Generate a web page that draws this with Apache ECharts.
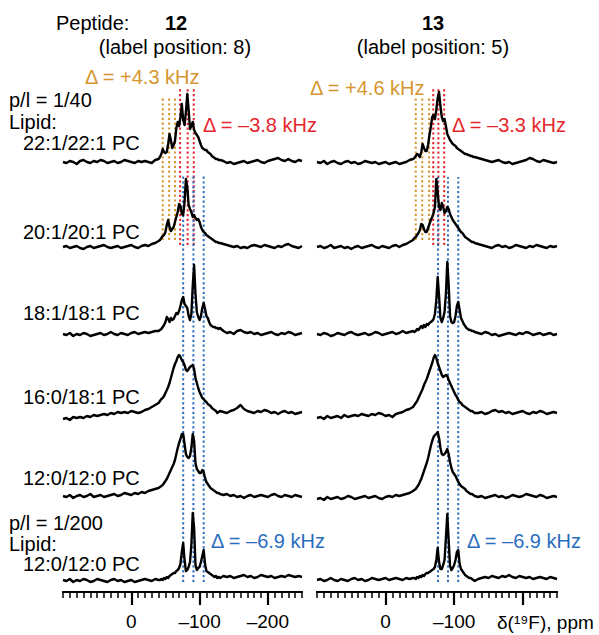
<!DOCTYPE html>
<html><head><meta charset="utf-8">
<script src="https://cdn.jsdelivr.net/npm/echarts@6/dist/echarts.min.js"></script>
<style>html,body{margin:0;padding:0;background:#fff}#c{width:599px;height:635px}</style>
</head><body><div id="c"></div>
<script>
// chemical shift grid (ppm)
const ppm = [100,95,90,85,80,75,70,65,60,55,50,45,40,35,30,25,20,15,10,5,0,-5,-10,-15,-20,-25,-30,-35,-40,
-42,-44,-46,-48,-50,-52,-54,-56,-58,-60,-62,-64,-66,-68,-70,-72,-74,-76,-78,-80,-82,-84,-86,-88,-90,-92,-94,-96,-98,-100,-102,-104,-106,-108,-110,-112,-114,-116,-118,-120,-122,-124,-126,-128,-130,
-135,-140,-145,-150,-155,-160,-165,-170,-175,-180,-185,-190,-195,-200,-205,-210,-215,-220,-225,-230,-235,-240,-245,-250];

const rowLabels = ['22:1/22:1 PC','20:1/20:1 PC','18:1/18:1 PC','16:0/18:1 PC','12:0/12:0 PC','12:0/12:0 PC'];
const rowOffset = [430,345,258,179,96,12];

// Peptide 12 spectra (intensity, arbitrary units)
const p12_r1 = [0,-1,1,0,-2,1,2,0,-1,1,0,2,1,-1,0,1,-1,0,2,1,0,-1,1,0,1,0,-1,2,3,
5,8,13,10,9,10,18,28,22,14,17,21,34,40,36,45,58,42,37,50,68,52,33,36,40,32,29,27,25,21,17,14,13,12,12,10,9,8,6,5,4,3,3,2,2,
1,-1,0,-2,-1,0,1,-1,0,1,2,0,-1,1,2,3,4,2,1,3,1,0,2,1];
const p12_r2 = [0,1,-1,0,1,-1,-2,0,1,-1,0,1,2,0,-1,0,1,-1,0,1,2,0,-1,1,2,1,3,4,6,
7,9,11,12,15,22,27,20,16,18,20,25,30,35,43,41,33,32,45,68,60,42,38,35,30,32,29,27,28,25,20,17,15,14,12,11,10,9,8,7,6,5,5,4,4,
3,2,1,0,1,-1,0,-1,1,2,1,0,2,1,0,-1,1,0,2,3,1,0,-1,1];
const p12_r3 = [0,-1,1,-2,0,-1,1,0,-2,-1,0,1,-1,0,2,0,-1,1,0,-1,1,2,0,1,2,1,2,3,3,
4,5,7,9,12,17,15,12,16,14,15,18,21,20,23,28,34,37,30,28,26,18,14,20,48,69,40,22,17,14,18,26,31,25,18,16,12,9,8,7,7,6,6,5,6,
3,1,2,0,3,4,2,1,2,0,1,-1,0,1,2,0,-1,1,0,2,1,-1,0,1];
const p12_r4 = [-6,-5,-7,-4,-5,-4,-5,-3,-4,-2,-3,-2,-1,-2,0,-1,1,0,1,0,2,1,0,1,3,4,6,8,10,
12,14,15,17,20,23,26,30,35,40,45,49,52,56,58,56,53,51,48,43,42,44,46,47,48,44,35,30,25,21,18,15,14,12,11,9,8,7,5,4,3,2,0,1,2,
1,0,2,3,5,8,4,2,1,0,2,1,3,2,0,1,-1,1,2,0,1,-1,0,1];
const p12_r5 = [0,-1,1,-2,0,1,-1,0,2,-1,0,1,-1,0,1,2,0,1,3,2,1,3,2,4,3,5,6,7,8,
9,10,11,13,15,17,20,23,26,29,32,36,42,48,53,57,62,62,52,42,39,38,40,48,62,55,33,27,25,23,23,26,24,18,14,12,10,8,7,6,5,4,3,3,2,
1,2,0,1,-1,0,-2,0,1,-1,0,1,0,-1,1,2,0,-1,1,0,-1,1,0,-1];
const p12_r6 = [0,-1,1,-2,0,-1,1,0,-2,-1,1,0,-1,-2,0,1,-1,0,-2,-1,0,-2,-1,0,1,0,-1,1,0,
0,1,0,2,1,3,2,4,5,6,7,7,9,10,12,16,28,37,20,9,10,13,18,35,67,52,15,10,12,13,18,24,30,16,9,8,7,6,5,4,3,4,2,3,2,
4,3,4,2,3,4,5,3,4,2,3,5,4,3,4,2,3,4,3,5,4,3,4,3];

// Peptide 13 spectra
const p13_r1 = [0,-1,1,-2,0,1,-1,-2,0,1,-1,0,-2,-1,1,0,-1,0,-2,-1,0,-2,-1,0,-2,-1,0,2,3,
4,6,8,7,5,10,18,14,11,11,17,27,35,45,47,43,52,64,70,56,45,41,43,36,28,25,22,20,18,17,16,14,13,12,11,10,9,8,8,7,7,6,6,5,5,
4,3,2,1,0,1,2,0,-1,0,-2,-1,0,1,2,4,3,1,0,2,1,0,-1,0];
const p13_r2 = [0,1,-1,0,2,-1,0,1,-1,0,-2,0,1,-1,0,1,2,0,-1,1,0,-1,1,2,0,2,3,5,7,
9,10,12,14,17,23,22,18,15,15,19,23,27,30,34,40,68,55,40,37,44,40,34,36,40,38,33,30,27,25,23,21,19,17,15,14,12,10,9,8,7,6,5,5,4,
3,2,1,0,-1,1,2,0,1,-1,0,2,1,0,-1,1,0,2,1,0,-1,1,0,1];
const p13_r3 = [0,-1,1,0,-2,-1,1,0,-1,1,2,0,-1,0,1,-1,0,2,1,-1,0,1,2,0,1,3,1,2,3,
2,3,5,4,6,8,6,9,7,10,9,11,12,13,15,20,34,57,38,16,12,16,22,40,72,50,18,12,11,12,18,28,32,24,16,13,10,8,6,5,4,4,3,3,2,
1,0,2,1,-1,0,-2,-1,0,1,0,-1,1,0,2,1,-1,0,1,-1,0,1,-1,0];
const p13_r4 = [-5,-4,-6,-3,-5,-4,-3,-5,-2,-4,-3,-2,-3,-1,-2,-3,-1,-2,0,-1,-3,-2,-4,-1,0,1,3,4,6,
8,10,12,15,18,21,24,28,31,34,38,42,46,50,55,58,55,50,46,42,38,36,37,38,37,33,30,27,24,21,18,16,13,11,10,8,7,6,5,4,3,2,2,1,0,
0,1,-1,0,2,3,1,2,0,1,-1,0,1,2,0,-1,1,0,2,1,-1,0,1,0];
const p13_r5 = [-3,-2,-4,-1,-3,-2,-1,-3,-2,0,-1,-3,-2,-1,0,-2,-1,0,-2,-3,-1,0,-1,1,0,1,2,3,5,
6,7,9,11,14,17,21,25,29,33,38,44,50,55,59,61,62,64,58,48,42,41,42,44,47,42,34,28,24,22,20,17,14,12,10,9,8,7,5,4,3,2,2,1,0,
-1,0,-2,-1,0,1,-1,0,-2,-1,1,0,-1,0,2,1,0,-1,1,0,-2,-1,0,-1];
const p13_r6 = [0,1,-1,0,2,0,-1,1,0,-1,1,2,0,1,-1,0,2,1,0,1,2,0,1,2,1,0,2,1,2,
2,1,3,2,4,3,5,4,6,7,7,8,9,10,11,13,20,32,18,11,11,15,20,42,66,40,14,10,12,15,20,28,30,16,11,9,7,5,4,3,2,2,1,0,-1,
1,2,3,2,4,3,2,4,3,5,3,2,4,3,2,3,1,2,3,2,1,3,2,1];

// dotted guide positions (ppm)
const dotOrange12 = [-46,-55.5,-64];
const dotRed12 = [-71.5,-82.5,-91.5];
const dotBlue12 = [-76,-91,-106];
const dotOrange13 = [-44,-53.5,-63.5];
const dotRed13 = [-69.5,-77,-85.5];
const dotBlue13 = [-76.5,-91,-106];

// axis ticks
const minorTicks = [100,90,80,70,60,50,40,30,20,10,0,-10,-20,-30,-40,-50,-60,-70,-80,-90,-100,-110,-120,-130,-140,-150,-160,-170,-180,-190,-200,-210,-220,-230,-240,-250];
const majorTicks = [0,-100,-200];
const labels12 = [0,-100,-200];
const labels13 = [0,-100];

const FONT = '"Liberation Sans", Arial, Helvetica, sans-serif';
const ORANGE = '#d6962f', RED = '#e5262c', BLUE = '#2a6dbd';

const spectra12 = [p12_r1,p12_r2,p12_r3,p12_r4,p12_r5,p12_r6];
const spectra13 = [p13_r1,p13_r2,p13_r3,p13_r4,p13_r5,p13_r6];

const series = [];
function dots(list, color, y0, y1, gi) {
  list.forEach(x => series.push({
    type:'line', xAxisIndex: gi*2, yAxisIndex: gi, silent:true, symbol:'none', z:1,
    data:[[x,y0],[x,y1]],
    lineStyle:{color:color, width:2, type:[2.2,2.6]}
  }));
}
dots(dotOrange12, ORANGE, 352, 494, 0);
dots(dotRed12, RED, 347, 505, 0);
dots(dotBlue12, BLUE, 10, 416, 0);
dots(dotOrange13, ORANGE, 352, 494, 1);
dots(dotRed13, RED, 347, 505, 1);
dots(dotBlue13, BLUE, 10, 415, 1);

function spec(arr, off, gi) {
  series.push({
    type:'line', xAxisIndex: gi*2, yAxisIndex: gi, silent:true, symbol:'none', showSymbol:false, z:5,
    data: ppm.map((p,i)=>[p, off + arr[i]]),
    lineStyle:{color:'#000', width:2.4, join:'round'}
  });
}
spectra12.forEach((a,i)=>spec(a,rowOffset[i],0));
spectra13.forEach((a,i)=>spec(a,rowOffset[i],1));

const fmt = v => v < 0 ? '\u2013' + Math.abs(v) : String(v);
function axes(gi, labels) {
  return [
    { gridIndex: gi, type:'value', position:'bottom', min:-250, max:100, inverse:true,
      axisLine:{show:true, lineStyle:{color:'#000', width:2}},
      axisTick:{show:true, customValues:minorTicks, length:6, lineStyle:{color:'#000', width:1.5}},
      axisLabel:{show:false}, splitLine:{show:false} },
    { gridIndex: gi, type:'value', position:'bottom', offset:0, min:-250, max:100, inverse:true,
      axisLine:{show:true, lineStyle:{color:'#000', width:2}},
      axisTick:{show:true, customValues:majorTicks, length:13, lineStyle:{color:'#000', width:2.2}},
      axisLabel:{show:true, customValues:labels, formatter:fmt, color:'#000', fontSize:19, fontFamily:FONT, margin:20},
      splitLine:{show:false} }
  ];
}

function T(text, x, y, o) {
  o = o || {};
  return { type:'text', silent:true, z:10,
    style:{ text:text, x:x, y:y, fill:o.color||'#000',
      font:(o.bold?'bold ':'') + (o.size||20) + 'px ' + FONT,
      textAlign:o.align||'left', textVerticalAlign:'middle' } };
}

const graphics = [
  T('Peptide:', 56, 23),
  T('12', 176, 23, {bold:true, align:'center'}),
  T('(label position: 8)', 175, 47, {align:'center'}),
  T('13', 433, 23, {bold:true, align:'center'}),
  T('(label position: 5)', 433, 47, {align:'center'}),
  T('\u0394 = +4.3 kHz', 85, 77, {color:ORANGE}),
  T('\u0394 = \u20133.8 kHz', 203, 125, {color:RED}),
  T('\u0394 = +4.6 kHz', 310, 88, {color:ORANGE}),
  T('\u0394 = \u20133.3 kHz', 452, 125, {color:RED}),
  T('p/l = 1/40', 9, 100),
  T('Lipid:', 9, 122),
  T(rowLabels[0], 23, 143),
  T(rowLabels[1], 23, 232),
  T(rowLabels[2], 23, 313),
  T(rowLabels[3], 23, 397),
  T(rowLabels[4], 23, 478),
  T('p/l = 1/200', 9, 523),
  T('Lipid:', 9, 544),
  T(rowLabels[5], 23, 564),
  T('\u0394 = \u20136.9 kHz', 211, 541, {color:BLUE}),
  T('\u0394 = \u20136.9 kHz', 467, 541, {color:BLUE}),
  T('\u03b4(\u00b9\u2079F), ppm', 497, 622, {size:19})
];

const chart = echarts.init(document.getElementById('c'), null, {renderer:'svg'});
chart.setOption({
  animation:false,
  backgroundColor:'#fff',
  grid:[{left:63, width:239, top:60, height:532}, {left:317, width:240, top:60, height:532}],
  xAxis:[...axes(0, labels12), ...axes(1, labels13)],
  yAxis:[{gridIndex:0, type:'value', min:0, max:532, show:false},{gridIndex:1, type:'value', min:0, max:532, show:false}],
  series: series,
  graphic: graphics
});
</script></body></html>
